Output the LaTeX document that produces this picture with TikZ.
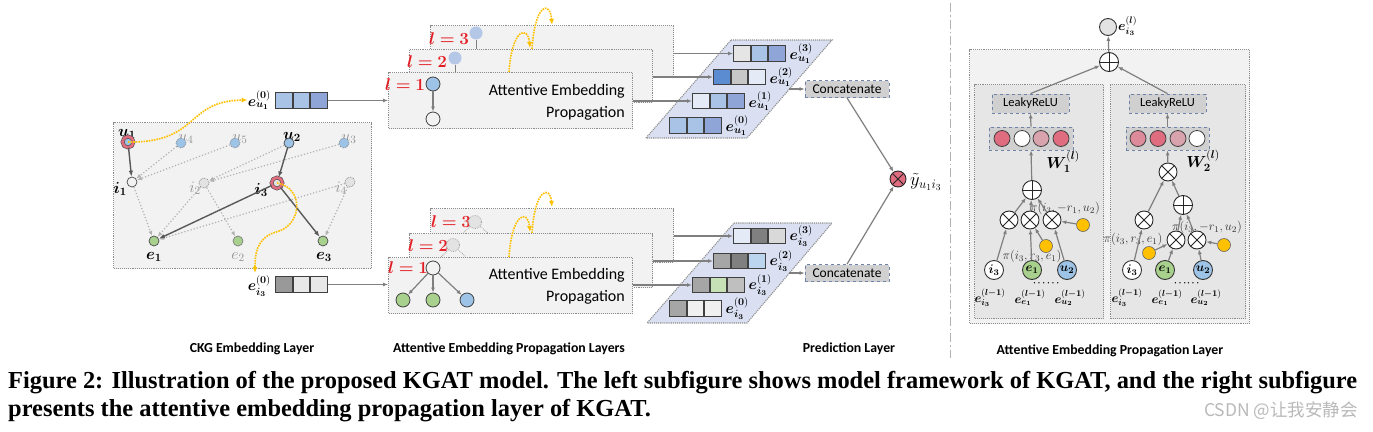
\documentclass[tikz,border=0pt]{standalone}
\usepackage{fix-cm}
\usepackage{amsmath}
\usepackage{bm}
\usepackage{fontspec}
\usetikzlibrary{arrows.meta}
\newfontfamily\carl{Carlito}
\newfontfamily\capfont{Liberation Serif}
\newfontfamily\cjkfont{Noto Sans CJK SC}
\definecolor{boxgray}{HTML}{F2F2F2}
\definecolor{ingray}{HTML}{E6E6E6}
\definecolor{dotc}{HTML}{8C8C8C}
\definecolor{lgray}{HTML}{7F7F7F}
\definecolor{sgray}{HTML}{595959}
\definecolor{cblue}{HTML}{9DC3E6}
\definecolor{cgreen}{HTML}{A9D18E}
\definecolor{yel}{HTML}{FFC000}
\definecolor{pinkr}{HTML}{E06C80}
\definecolor{lpink}{HTML}{D9A3AE}
\definecolor{mpink}{HTML}{DD8A9A}
\definecolor{paral}{HTML}{DAE0F2}
\definecolor{vbA}{HTML}{A8C3E6}
\definecolor{vbB}{HTML}{8FA5D8}
\definecolor{vbC}{HTML}{5B8BD0}
\definecolor{vbD}{HTML}{E4EAF6}
\definecolor{concg}{HTML}{D0D0D0}
\definecolor{concb}{HTML}{6F82A8}
\definecolor{lred}{HTML}{E31E24}
\definecolor{lnode}{HTML}{E3E3E3}
\definecolor{lblue}{HTML}{B4C7E7}
\newcommand{\cells}[5]{%
 \node[cell,fill=#3] (#1a) at #2 {};
 \node[cell,fill=#4] (#1b) at (#1a.east) {};
 \node[cell,fill=#5] (#1c) at (#1b.east) {};}
\tikzset{
 conn/.style={draw=lgray, line width=1.2pt},
 arr/.style={conn, -{Latex[length=5pt,width=4pt]}},
 dotarr/.style={draw=gray!60, dotted, line width=1.2pt, -{Latex[length=5pt,width=4pt]}},
 solarr/.style={draw=sgray, line width=1.4pt, -{Latex[length=6pt,width=4.5pt]}},
 yarr/.style={draw=yel, densely dotted, line width=1.6pt, -{Latex[length=6pt,width=5pt]}},
 aepbox/.style={draw=dotc, densely dotted, line width=1.1pt, fill=boxgray, rectangle, anchor=north west, inner sep=0pt},
 cell/.style={draw=black!75, line width=0.8pt, minimum width=16.7pt, minimum height=15.5pt, inner sep=0pt, anchor=west},
 sn/.style={circle, draw=black!70, line width=0.7pt, minimum size=10pt, inner sep=0pt},
 bn/.style={circle, draw=black!75, line width=0.8pt, minimum size=14pt, inner sep=0pt},
 ring/.style={circle, draw=black!70, line width=0.6pt, double=pinkr, double distance=2.6pt, minimum size=11pt, inner sep=0pt},
 otimes/.style={circle, draw=black!85, line width=0.9pt, fill=white, minimum size=18pt, inner sep=0pt,
   path picture={\draw[line width=0.9pt, black!85] (path picture bounding box.south west) -- (path picture bounding box.north east) (path picture bounding box.north west) -- (path picture bounding box.south east);}},
 oplus/.style={circle, draw=black!85, line width=0.9pt, fill=white, minimum size=19pt, inner sep=0pt,
   path picture={\draw[line width=0.9pt, black!85] (path picture bounding box.south) -- (path picture bounding box.north) (path picture bounding box.west) -- (path picture bounding box.east);}},
 conc/.style={draw=concb, dashed, fill=concg, line width=0.8pt, inner sep=0pt, font=\carl\fontsize{13.5}{15}\selectfont},
 yn/.style={circle, draw=black!60, line width=0.6pt, fill=yel, minimum size=13pt, inner sep=0pt},
 wc/.style={circle, draw=black!75, line width=0.8pt, minimum size=16pt, inner sep=0pt},
 mlab/.style={inner sep=0pt, font=\fontsize{16}{19}\selectfont},
 glab/.style={inner sep=0pt, text=gray!85, font=\fontsize{16}{19}\selectfont},
 rlab/.style={inner sep=0pt, text=lred, font=\fontsize{17}{20}\selectfont},
 elab/.style={inner sep=0pt, anchor=west, font=\fontsize{15}{18}\selectfont},
 plab/.style={inner sep=0pt, text=black!80, font=\fontsize{12.5}{14}\selectfont},
 slab/.style={inner sep=0pt, font=\fontsize{12.5}{14}\selectfont},
 dotlab/.style={inner sep=0pt, font=\fontsize{9}{10}\selectfont},
 aeptext/.style={inner sep=0pt, anchor=east, align=right, font=\carl\fontsize{16}{22}\selectfont},
 botlab/.style={inner sep=0pt, font=\carl\bfseries\fontsize{13.8}{16}\selectfont}
}
\begin{document}
\begin{tikzpicture}[x=1pt,y=-1pt]
\useasboundingbox (0,0) rectangle (1373,431);
\fill[white] (0,0) rectangle (1373,431);

% ---------------- CKG embedding layer ----------------
\node[aepbox, minimum width=258, minimum height=146] (ckg) at (113,122) {};
% labels (behind nodes)
\node[mlab] (lu1) at (127,134) {$\bm{u_1}$};
\node[glab] (lu4) at (186,139) {$u_4$};
\node[glab] (lu5) at (240,139) {$u_5$};
\node[mlab] (lu2) at (292,137) {$\bm{u_2}$};
\node[glab] (lu3) at (349,139) {$u_3$};
\node[mlab] (li1) at (120,189) {$\bm{i_1}$};
\node[glab] (li2) at (195,188) {$i_2$};
\node[mlab] (li3) at (261,190) {$\bm{i_3}$};
\node[glab] (li4) at (341,188) {$i_4$};
\node[mlab] (le1) at (154,257) {$\bm{e_1}$};
\node[glab] (le2) at (238,257) {$e_2$};
\node[mlab] (le3) at (324,257) {$\bm{e_3}$};
% nodes
\node[ring, fill=cblue] (u1) at (128,142) {};
\node[sn, fill=cblue, draw=gray, densely dotted] (u4) at (181,143) {};
\node[sn, fill=cblue, draw=gray, densely dotted] (u5) at (235,143) {};
\node[sn, fill=cblue] (u2) at (289,143) {};
\node[sn, fill=cblue, draw=gray, densely dotted] (u3) at (344,143) {};
\node[sn, fill=boxgray] (i1) at (132,182) {};
\node[sn, fill=lnode, draw=gray, densely dotted] (i2) at (204,183) {};
\node[ring, fill=lnode] (i3) at (277,183) {};
\node[sn, fill=lnode, draw=gray, densely dotted] (i4) at (350,182) {};
\node[sn, fill=cgreen] (e1) at (154,241) {};
\node[sn, fill=cgreen, draw=gray] (e2) at (238,241) {};
\node[sn, fill=cgreen] (e3) at (323,241) {};
% edges
\draw[dotarr] (u4) -- (i1);
\draw[dotarr] (u5) -- (i1);
\draw[dotarr] (u2) -- (i2);
\draw[dotarr] (u3) -- (i2);
\draw[dotarr] (i1) -- (e1);
\draw[dotarr] (i2) -- (e1);
\draw[dotarr] (i2) -- (e2);
\draw[dotarr] (i4) -- (e1);
\draw[dotarr] (i4) -- (e3);
\draw[solarr] (u1) -- (i1);
\draw[solarr] (u2) -- (i3);
\draw[solarr] (i3) -- (e1);
\draw[solarr] (i3) -- (e3);

% initial embeddings
\node[elab, anchor=east] (eu0) at (271,100) {$\bm{e}_{\bm{u_1}}^{(\bm 0)}$};
\cells{vu}{(275,100.5)}{vbA}{vbA}{vbB}
\node[elab, anchor=east] (ei0) at (271,286) {$\bm{e}_{\bm{i_3}}^{(\bm 0)}$};
\cells{vi}{(275,284.5)}{black!40}{black!9}{black!9}
\draw[yarr] (u1.center) .. controls (200,143) and (185,101) .. (eu0.west);
\draw[yarr] (i3.center) .. controls (305,188) and (302,226) .. (276,232) .. controls (256,238) and (255,255) .. (255,273);

% ---------------- top propagation stack ----------------
\node[aepbox, minimum width=243, minimum height=52] (tb3) at (430,25) {};
\node[aepbox, minimum width=243, minimum height=53] (tb2) at (409,49) {};
\node[aepbox, minimum width=244, minimum height=56] (tb1) at (388,72) {};
\node[rlab] (tl3) at (449,39) {$\bm{l=3}$};
\node[rlab] (tl2) at (427,62) {$\bm{l=2}$};
\node[rlab] (tl1) at (405,85) {$\bm{l=1}$};
\node[bn, fill=lblue, draw=none, minimum size=13pt] (tn3) at (476,33) {};
\draw[draw=lgray, line width=0.8pt] (tn3.south) -- (tn3.south |- tb2.north);
\node[bn, fill=lblue, draw=none, minimum size=13pt] (tn2) at (455,58) {};
\draw[draw=lgray, line width=0.8pt] (tn2.south) -- (tn2.south |- tb1.north);
\node[bn, fill=cblue] (tn1a) at (433,84) {};
\node[bn, fill=boxgray] (tn1b) at (433,119) {};
\draw[arr] (tn1a) -- (tn1b);
\node[aeptext] (tt1) at (625,102) {Attentive Embedding\\Propagation};
\draw[yarr] (509,72) .. controls (512,28) and (528,25) .. (530,48);
\draw[yarr] (532,49) .. controls (535,3) and (550,0) .. (552,25);
\draw[arr] (vuc.east) -- (tb1.west |- vuc.east);

% ---------------- bottom propagation stack ----------------
\node[aepbox, minimum width=243, minimum height=54] (bb3) at (430,208) {};
\node[aepbox, minimum width=243, minimum height=54] (bb2) at (409,233) {};
\node[aepbox, minimum width=244, minimum height=56] (bb1) at (388,257) {};
\node[rlab] (bl3) at (451,222) {$\bm{l=3}$};
\node[rlab] (bl2) at (428,246) {$\bm{l=2}$};
\node[rlab] (bl1) at (408,268) {$\bm{l=1}$};
\node[bn, fill=lnode, draw=gray!70, densely dotted, minimum size=13pt] (bn3) at (475,222) {};
\draw[draw=gray!70, densely dotted, line width=0.8pt] (bn3) -- (463,233);
\draw[draw=gray!70, densely dotted, line width=0.8pt] (bn3) -- (488,233);
\node[bn, fill=lnode, draw=gray!70, densely dotted, minimum size=13pt] (bn2) at (453,245) {};
\draw[draw=gray!70, densely dotted, line width=0.8pt] (bn2) -- (441,257);
\draw[draw=gray!70, densely dotted, line width=0.8pt] (bn2) -- (466,257);
\node[bn, fill=boxgray] (bn1) at (433,268) {};
\node[bn, fill=cgreen] (bc1) at (403,300) {};
\node[bn, fill=cgreen] (bc2) at (433,300) {};
\node[bn, fill=cblue] (bc3) at (467,300) {};
\draw[arr] (bn1) -- (bc1);
\draw[arr] (bn1) -- (bc2);
\draw[arr] (bn1) -- (bc3);
\node[aeptext] (bt1) at (625,286) {Attentive Embedding\\Propagation};
\draw[yarr] (509,257) .. controls (512,212) and (528,209) .. (530,232);
\draw[yarr] (532,233) .. controls (535,188) and (550,185) .. (552,207);
\draw[arr] (vic.east) -- (bb1.west |- vic.east);

% ---------------- parallelograms & layer embeddings ----------------
\fill[paral] (731,40) -- (832,40) -- (747,138) -- (646,138) -- cycle;
\draw[draw=dotc, densely dotted, line width=1.1pt] (731,40) -- (832,40) -- (747,138) -- (646,138) -- cycle;
\fill[paral] (734,223) -- (832,223) -- (747,323) -- (647,323) -- cycle;
\draw[draw=dotc, densely dotted, line width=1.1pt] (734,223) -- (832,223) -- (747,323) -- (647,323) -- cycle;

\cells{ta}{(733,53.5)}{black!10}{vbA}{vbB}
\cells{tb}{(713,77)}{vbC}{black!22}{vbD}
\cells{tc}{(692,101)}{vbD}{vbA}{vbB}
\cells{td}{(669,125.5)}{vbA}{vbA}{vbB}
\node[elab] (lta) at ([xshift=4pt]tac.east) {$\bm{e}_{\bm{u_1}}^{(\bm 3)}$};
\node[elab] (ltb) at ([xshift=4pt]tbc.east) {$\bm{e}_{\bm{u_1}}^{(\bm 2)}$};
\node[elab] (ltc) at ([xshift=4pt]tcc.east) {$\bm{e}_{\bm{u_1}}^{(\bm 1)}$};
\node[elab] (ltd) at ([xshift=4pt]tdc.east) {$\bm{e}_{\bm{u_1}}^{(\bm 0)}$};
\draw[arr] (tb3.east |- taa.west) -- (taa.west);
\draw[arr] (tb2.east |- tba.west) -- (tba.west);
\draw[arr] (tb1.east |- tca.west) -- (tca.west);

\cells{ba}{(733,236)}{vbD}{black!50}{black!15}
\cells{bb}{(713,261)}{black!35}{black!50}{cblue!70}
\cells{bc}{(692,285)}{black!35}{cgreen!65}{black!25}
\cells{bd}{(669,308.5)}{black!35}{black!6}{black!6}
\node[elab] (lba) at ([xshift=4pt]bac.east) {$\bm{e}_{\bm{i_3}}^{(\bm 3)}$};
\node[elab] (lbb) at ([xshift=4pt]bbc.east) {$\bm{e}_{\bm{i_3}}^{(\bm 2)}$};
\node[elab] (lbc) at ([xshift=4pt]bcc.east) {$\bm{e}_{\bm{i_3}}^{(\bm 1)}$};
\node[elab] (lbd) at ([xshift=4pt]bdc.east) {$\bm{e}_{\bm{i_3}}^{(\bm 0)}$};
\draw[arr] (bb3.east |- baa.west) -- (baa.west);
\draw[arr] (bb2.east |- bba.west) -- (bba.west);
\draw[arr] (bb1.east |- bca.west) -- (bca.west);

% ---------------- prediction ----------------
\node[conc, minimum width=84pt, minimum height=17pt] (conc1) at (847,89) {Concatenate};
\node[conc, minimum width=84pt, minimum height=17pt] (conc2) at (847,273) {Concatenate};
\coordinate (tp) at (789,89);
\coordinate (bp) at (789,273);
\draw[arr] (tp) -- (conc1.west);
\draw[arr] (bp) -- (conc2.west);
\node[otimes, fill=pinkr, minimum size=16pt] (pred) at (898,179) {};
\draw[arr] (conc1.south) -- (pred);
\draw[arr] (conc2.north) -- (pred);
\node[inner sep=0pt, anchor=west, font=\fontsize{18.5}{21}\selectfont] (yhat) at (910,182) {$\tilde{y}_{u_1 i_3}$};

% separator
\draw[draw=gray!60, line width=1pt, dash pattern=on 9pt off 3pt on 1.5pt off 3pt] (950,3) -- (950,358);

% ---------------- right panel ----------------
\node[aepbox, minimum width=280, minimum height=274] (rp) at (969,49) {};
\node[aepbox, fill=ingray, minimum width=129, minimum height=234] (rpl) at (974,84) {};
\node[aepbox, fill=ingray, minimum width=135, minimum height=234] (rpr) at (1110,84) {};

\node[circle, draw=black!80, line width=0.9pt, fill=lnode, minimum size=17pt, inner sep=0pt] (etop) at (1108,27) {};
\node[inner sep=0pt, anchor=west, font=\fontsize{13.5}{15}\selectfont] (letop) at (1118,26) {$\bm{e}_{\bm{i_3}}^{(\bm l)}$};
\node[oplus] (topplus) at (1109,62) {};
\draw[arr] (topplus) -- (etop);

\node[conc, font=\carl\fontsize{12.5}{14}\selectfont, minimum width=77pt, minimum height=19pt] (lrL) at (1030.5,103.5) {LeakyReLU};
\node[conc, font=\carl\fontsize{12.5}{14}\selectfont, minimum width=77pt, minimum height=19pt] (lrR) at (1167.5,103.5) {LeakyReLU};
\draw[arr] (lrL.north) -- (topplus);
\draw[arr] (lrR.north) -- (topplus);

\node[conc, minimum width=84pt, minimum height=23pt] (rowL) at (1031,138.5) {};
\node[conc, minimum width=83pt, minimum height=23pt] (rowR) at (1167.5,138.5) {};
\node[wc, fill=pinkr] (wl1) at (1002,138.5) {};
\node[wc, fill=white] (wl2) at (1022,138.5) {};
\node[wc, fill=lpink] (wl3) at (1041,138.5) {};
\node[wc, fill=pinkr] (wl4) at (1061,138.5) {};
\node[wc, fill=mpink] (wr1) at (1138,138.5) {};
\node[wc, fill=pinkr] (wr2) at (1158,138.5) {};
\node[wc, fill=lpink] (wr3) at (1178,138.5) {};
\node[wc, fill=white] (wr4) at (1197,138.5) {};
\draw[arr] (rowL.north) -- (lrL.south);
\draw[arr] (rowR.north) -- (lrR.south);
\node[inner sep=0pt, font=\fontsize{16}{19}\selectfont] (wlab1) at (1063,162) {$\bm{W}_{\bm 1}^{(\bm l)}$};
\node[inner sep=0pt, font=\fontsize{16}{19}\selectfont] (wlab2) at (1203,161) {$\bm{W}_{\bm 2}^{(\bm l)}$};

% left branch
\node[plab] (pl1) at (1032,256) {$\pi(i_3,r_3,e_1)$};
\node[plab] (pl2) at (1065,208) {$\pi(i_3,-r_1,u_2)$};
\node[oplus] (plL) at (1032,190) {};
\node[otimes] (xl1) at (1009,220) {};
\node[otimes] (xl2) at (1030,220) {};
\node[otimes] (xl3) at (1052,220) {};
\node[yn] (yl1) at (1046,246) {};
\node[yn] (yl2) at (1083,225) {};
\node[circle, draw=black!80, line width=0.9pt, fill=white, minimum size=19pt, inner sep=0pt, font=\fontsize{12.5}{14}\selectfont] (il) at (994,270) {$\bm{i_3}$};
\node[circle, draw=black!80, line width=0.9pt, fill=cgreen, minimum size=19pt, inner sep=0pt, font=\fontsize{12.5}{14}\selectfont] (el) at (1032,270) {$\bm{e_1}$};
\node[circle, draw=black!80, line width=0.9pt, fill=cblue, minimum size=19pt, inner sep=0pt, font=\fontsize{12.5}{14}\selectfont] (ul) at (1067,270) {$\bm{u_2}$};
\draw[arr] (il) -- (xl1);
\draw[arr] (el) -- (xl2);
\draw[arr] (ul) -- (xl3);
\draw[arr] (yl1) -- (xl2);
\draw[arr] (yl2) -- (xl3);
\draw[arr] (xl1) -- (plL);
\draw[arr] (xl2) -- (plL);
\draw[arr] (xl3) -- (plL);
\draw[arr] (plL) -- (rowL.south);
\node[dotlab] (dl1) at (1040,283) {$\bm{\cdots}$};
\node[dotlab] (dl2) at (1054,283) {$\bm{\cdots}$};
\node[slab] (ell1) at (990,298) {$\bm{e}_{\bm{i_3}}^{(\bm{l-1})}$};
\node[slab] (ell2) at (1030,298) {$\bm{e}_{\bm{e_1}}^{(\bm{l-1})}$};
\node[slab] (ell3) at (1070,298) {$\bm{e}_{\bm{u_2}}^{(\bm{l-1})}$};

% right branch
\node[plab] (pr1) at (1133,239) {$\pi(i_3,r_3,e_1)$};
\node[plab] (pr2) at (1207,227) {$\pi(i_3,-r_1,u_2)$};
\node[otimes] (xrt) at (1168,172) {};
\node[oplus] (plR) at (1183,205) {};
\node[otimes] (xrl) at (1144,220) {};
\node[otimes] (xrm) at (1176,240) {};
\node[otimes] (xrr) at (1197,240) {};
\node[yn] (yr1) at (1149,253) {};
\node[yn] (yr2) at (1224,245) {};
\node[circle, draw=black!80, line width=0.9pt, fill=white, minimum size=19pt, inner sep=0pt, font=\fontsize{12.5}{14}\selectfont] (ir) at (1132,270) {$\bm{i_3}$};
\node[circle, draw=black!80, line width=0.9pt, fill=cgreen, minimum size=19pt, inner sep=0pt, font=\fontsize{12.5}{14}\selectfont] (er) at (1165,270) {$\bm{e_1}$};
\node[circle, draw=black!80, line width=0.9pt, fill=cblue, minimum size=19pt, inner sep=0pt, font=\fontsize{12.5}{14}\selectfont] (ur) at (1203,270) {$\bm{u_2}$};
\draw[arr] (ir) -- (xrl);
\draw[arr] (xrl) -- (xrt);
\draw[arr] (er) -- (xrm);
\draw[arr] (yr1) -- (xrm);
\draw[arr] (ur) -- (xrr);
\draw[arr] (yr2) -- (xrr);
\draw[arr] (xrm) -- (plR);
\draw[arr] (xrr) -- (plR);
\draw[arr] (plR) -- (xrt);
\draw[arr] (xrt) -- (rowR.south);
\node[dotlab] (dr1) at (1181,283) {$\bm{\cdots}$};
\node[dotlab] (dr2) at (1194,283) {$\bm{\cdots}$};
\node[slab] (elr1) at (1127,298) {$\bm{e}_{\bm{i_3}}^{(\bm{l-1})}$};
\node[slab] (elr2) at (1167,298) {$\bm{e}_{\bm{e_1}}^{(\bm{l-1})}$};
\node[slab] (elr3) at (1206,298) {$\bm{e}_{\bm{u_2}}^{(\bm{l-1})}$};

% ---------------- bottom labels & caption ----------------
\node[botlab] (bl_a) at (252,349) {CKG Embedding Layer};
\node[botlab] (bl_b) at (509,349) {Attentive Embedding Propagation Layers};
\node[botlab] (bl_c) at (849,349) {Prediction Layer};
\node[botlab] (bl_d) at (1110,351) {Attentive Embedding Propagation Layer};

\node[inner sep=0pt, anchor=north west] (cap) at (8,368) {\resizebox{1349pt}{!}{\capfont\bfseries\fontsize{20}{23.5}\selectfont
\begin{tabular}{@{}l@{}}
Figure 2: Illustration of the proposed KGAT model. The left subfigure shows model framework of KGAT, and the right subfigure\\
presents the attentive embedding propagation layer of KGAT.
\end{tabular}}};
\node[inner sep=0pt, anchor=east, text=gray!55, font=\cjkfont\fontsize{17.5}{20}\selectfont] (wm) at (1358,411) {CSDN @让我安静会};
\end{tikzpicture}
\end{document}
